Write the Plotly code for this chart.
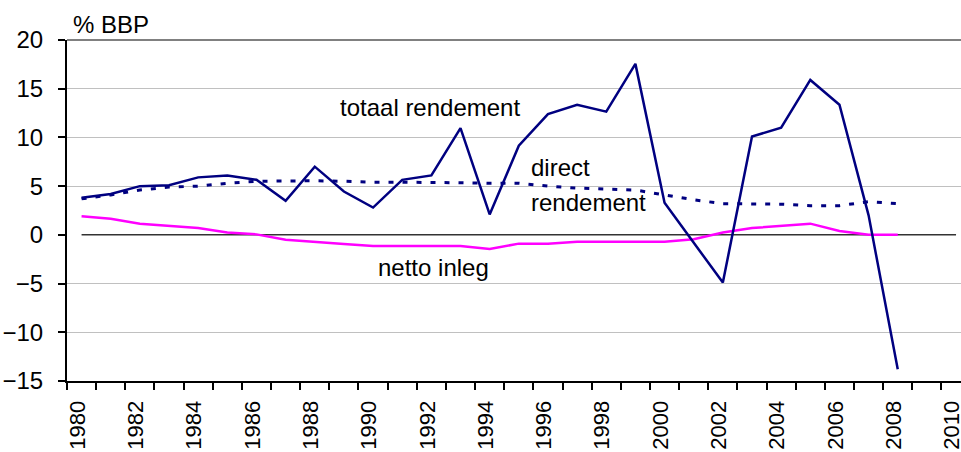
import plotly.graph_objects as go

# ---- data ----
years = list(range(1980, 2009))
zero_years = list(range(1980, 2011))

totaal_rendement = [3.8, 4.2, 5.0, 5.1, 5.9, 6.1, 5.65, 3.5, 7.0, 4.45,
                    2.8, 5.65, 6.1, 10.95, 2.1, 9.15, 12.4, 13.35, 12.65, 17.55,
                    3.3, -0.8, -4.9, 10.1, 11.0, 15.9, 13.35, 2.0, -13.8]

direct_rendement = [3.7, 4.1, 4.6, 4.9, 5.0, 5.3, 5.5, 5.55, 5.55, 5.5,
                    5.4, 5.4, 5.4, 5.35, 5.3, 5.3, 5.0, 4.8, 4.7, 4.6,
                    4.1, 3.6, 3.2, 3.2, 3.15, 3.0, 3.0, 3.4, 3.2]

netto_inleg = [1.9, 1.65, 1.15, 0.95, 0.7, 0.25, 0.05, -0.5, -0.75, -0.95,
               -1.15, -1.15, -1.15, -1.15, -1.45, -0.9, -0.9, -0.7, -0.7, -0.7,
               -0.7, -0.45, 0.25, 0.7, 0.9, 1.15, 0.4, 0.0, 0.0]

zero_line = [0, 0, 0, 0, 0, 0, 0, 0, 0, 0,
             0, 0, 0, 0, 0, 0, 0, 0, 0, 0,
             0, 0, 0, 0, 0, 0, 0, 0, 0, 0, 0]

y_tick_vals = [-15, -10, -5, 0, 5, 10, 15, 20]
grid_vals = [-10, -5, 5, 10, 15]
x_tick_vals = list(range(1980, 2011, 2))
x_tick_text = [str(v) for v in x_tick_vals]

FONT = "Liberation Sans, Arial, sans-serif"

fig = go.Figure()
# baseline on the main axis (drawn first, underneath)
fig.add_trace(go.Scatter(x=zero_years, y=zero_line, mode="lines", yaxis="y",
                         line=dict(color="#333333", width=1.5), hoverinfo="skip"))
fig.add_trace(go.Scatter(x=years, y=netto_inleg, mode="lines", yaxis="y2",
                         line=dict(color="#FF00FF", width=2.5), name="netto inleg"))
fig.add_trace(go.Scatter(x=years, y=direct_rendement, mode="lines", yaxis="y2",
                         line=dict(color="#000080", width=3, dash="5px,9px"),
                         name="direct rendement"))
fig.add_trace(go.Scatter(x=years, y=totaal_rendement, mode="lines", yaxis="y2",
                         line=dict(color="#000080", width=2.5), name="totaal rendement"))

fig.update_layout(
    width=961, height=452,
    margin=dict(l=67, r=0, t=40, b=71, pad=0),
    paper_bgcolor="white", plot_bgcolor="white",
    showlegend=False,
    font=dict(family=FONT, size=24, color="black"),
    xaxis=dict(
        range=[1979.5, 2010.17],
        tickmode="array", tickvals=x_tick_vals, ticktext=x_tick_text,
        tickangle=-90, ticks="", showgrid=False, zeroline=False,
        showline=True, linecolor="black", linewidth=2,
        minor=dict(tick0=1979.5, dtick=1, ticks="outside", ticklen=7,
                   tickcolor="black", tickwidth=1.5, showgrid=False),
        ticklabelstandoff=9, ticklabelshift=-4, ticklabeloverflow="allow",
        automargin=False,
        tickfont=dict(family=FONT, size=22, color="black"),
    ),
    yaxis=dict(
        range=[-15, 20], tickmode="array", tickvals=y_tick_vals,
        ticks="outside", ticklen=7, tickwidth=1.5, tickcolor="black",
        showgrid=False, zeroline=False,
        showline=True, linecolor="black", linewidth=2,
        ticklabelstandoff=10, automargin=False,
        tickfont=dict(family=FONT, size=24, color="black"),
    ),
    yaxis2=dict(
        range=[-15, 20], overlaying="y", side="left",
        tickmode="array", tickvals=grid_vals, showticklabels=False, ticks="",
        showgrid=True, gridcolor="#C0C0C0", gridwidth=1,
        zeroline=False, showline=False, automargin=False,
    ),
    shapes=[dict(type="line", xref="paper", yref="paper", x0=0, x1=1, y0=1, y1=1,
                 line=dict(color="#808080", width=2))],
)

ann_font = dict(family=FONT, size=24, color="black")
fig.add_annotation(x=0.004, y=1.045, xref="paper", yref="paper", text="% BBP",
                   showarrow=False, xanchor="left", yanchor="middle", font=ann_font)
fig.add_annotation(x=1991.95, y=13.1, xref="x", yref="y", text="totaal rendement",
                   showarrow=False, xanchor="center", yanchor="middle", font=ann_font)
fig.add_annotation(x=1995.35, y=6.9, xref="x", yref="y", text="direct",
                   showarrow=False, xanchor="left", yanchor="middle", font=ann_font)
fig.add_annotation(x=1995.35, y=3.3, xref="x", yref="y", text="rendement",
                   showarrow=False, xanchor="left", yanchor="middle", font=ann_font)
fig.add_annotation(x=1992.07, y=-3.4, xref="x", yref="y", text="netto inleg",
                   showarrow=False, xanchor="center", yanchor="middle", font=ann_font)

fig.write_html("out.html", config={"displayModeBar": False},
               post_script="document.body.style.margin='0px';")
